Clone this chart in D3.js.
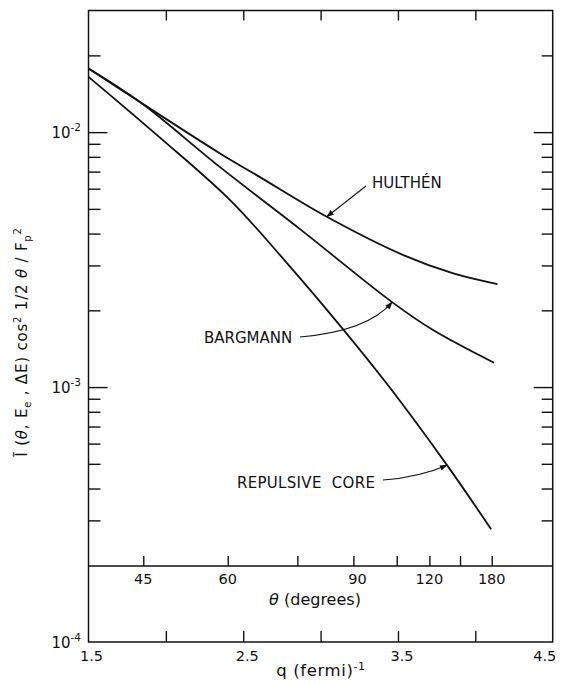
<!DOCTYPE html>
<html>
<head>
<meta charset="utf-8">
<script src="https://cdn.jsdelivr.net/npm/d3@7"></script>
<style>
  html, body { margin: 0; padding: 0; background: #fff; }
  svg text { font-family: "DejaVu Sans", "Liberation Sans", sans-serif; fill: #111; }
  .ax path, .ax line { stroke: #111; stroke-width: 1.4; }
</style>
</head>
<body>
<svg id="chart" width="565" height="685"></svg>
<script>
// Momentum transfer q (fermi^-1) and the cross-section ratio for three deuteron wave functions
const qHulthen   = [1.5, 1.833, 2.350, 2.608, 3.040, 3.535, 3.858, 4.143];
const vHulthen   = [0.01778, 0.01312, 0.00825, 0.00666, 0.004656, 0.003293, 0.002792, 0.002535];
const qBargmann  = [1.5, 1.833, 2.350, 2.867, 3.462, 3.727, 4.121];
const vBargmann  = [0.01778, 0.01312, 0.00729, 0.004165, 0.002154, 0.001673, 0.001245];
const qRepulsive = [1.5, 1.962, 2.415, 2.777, 3.139, 3.436, 3.817, 4.102];
const vRepulsive = [0.01648, 0.009515, 0.005412, 0.003093, 0.001704, 0.001016, 0.000494, 0.000277];

// Axis ticks
const qTicks      = [2, 2.5, 3, 3.5, 4];
const qTickLabels = [1.5, 2.5, 3.5, 4.5];
const yMajorTicks = [1e-2, 1e-3];
const yMinorTicks = [2e-2, 9e-3, 8e-3, 7e-3, 6e-3, 5e-3, 4e-3, 3e-3, 2e-3,
                     9e-4, 8e-4, 7e-4, 6e-4, 5e-4, 4e-4, 3e-4];
const yDecadeLabels = [-2, -3, -4];
// Scattering angle scale and the q each angle corresponds to
const thetaDeg    = [45, 60, 75, 90, 105, 120, 135, 180];
const thetaQ      = [1.854, 2.400, 2.850, 3.212, 3.492, 3.703, 3.901, 4.106];
const thetaLabels = [45, 60, 90, 120, 180];

const svg = d3.select("#chart");
const L = 88.5, R = 552.7, T = 10.5, B = 642, thetaLineY = 566;

const x = d3.scaleLinear().domain([1.5, 4.5]).range([L, R]);
const y = d3.scaleLog().domain([1e-4, 3e-2]).range([B, T]);

// frame
svg.append("rect").attr("x", L).attr("y", T).attr("width", R - L).attr("height", B - T)
  .attr("fill", "none").attr("stroke", "#111").attr("stroke-width", 1.5);

function strip(g) { g.select(".domain").remove(); }

// left / right ticks (pointing inward)
svg.append("g").attr("class", "ax").attr("transform", `translate(${L},0)`)
  .call(d3.axisLeft(y).tickValues(yMinorTicks).tickSize(-12).tickFormat("")).call(strip);
svg.append("g").attr("class", "ax").attr("transform", `translate(${L},0)`)
  .call(d3.axisLeft(y).tickValues(yMajorTicks).tickSize(-19).tickFormat("")).call(strip);
svg.append("g").attr("class", "ax").attr("transform", `translate(${R},0)`)
  .call(d3.axisRight(y).tickValues(yMinorTicks).tickSize(-11).tickFormat("")).call(strip);
svg.append("g").attr("class", "ax").attr("transform", `translate(${R},0)`)
  .call(d3.axisRight(y).tickValues(yMajorTicks).tickSize(-19).tickFormat("")).call(strip);

// top / bottom q ticks
svg.append("g").attr("class", "ax").attr("transform", `translate(0,${T})`)
  .call(d3.axisTop(x).tickValues(qTicks).tickSize(-10).tickFormat("")).call(strip);
svg.append("g").attr("class", "ax").attr("transform", `translate(0,${B})`)
  .call(d3.axisBottom(x).tickValues(qTicks).tickSize(-11).tickFormat("")).call(strip);

// theta scale line and ticks
svg.append("line").attr("x1", L).attr("x2", R).attr("y1", thetaLineY).attr("y2", thetaLineY)
  .attr("stroke", "#111").attr("stroke-width", 1.4);
svg.append("g").attr("class", "ax").attr("transform", `translate(0,${thetaLineY})`)
  .call(d3.axisTop(x).tickValues(thetaQ).tickSize(10).tickFormat("")).call(strip);

svg.append("g").selectAll("text").data(thetaLabels).join("text")
  .attr("x", d => x(thetaQ[thetaDeg.indexOf(d)]) + (d === 90 ? 4 : 0))
  .attr("y", 584).attr("text-anchor", "middle").attr("font-size", 14.5)
  .text(d => d);

const thLab = svg.append("text").attr("x", 315).attr("y", 605)
  .attr("text-anchor", "middle").attr("font-size", 16);
thLab.append("tspan").attr("font-style", "italic").text("θ");
thLab.append("tspan").text(" (degrees)");

// q labels
svg.append("g").selectAll("text").data(qTickLabels).join("text")
  .attr("x", d => x(d) + (d === 4.5 ? -8 : d === 1.5 ? 3 : 4))
  .attr("y", 661).attr("text-anchor", "middle").attr("font-size", 14.5)
  .text(d => d.toFixed(1));

const qLab = svg.append("text").attr("x", 321).attr("y", 676)
  .attr("text-anchor", "middle").attr("font-size", 16.5).attr("letter-spacing", 0.6);
qLab.append("tspan").text("q (fermi)");
qLab.append("tspan").attr("dy", -6).attr("font-size", 11).text("-1");

// decade labels
yDecadeLabels.forEach(e => {
  const t = svg.append("text").attr("x", 81).attr("y", y(Math.pow(10, e)) + 6)
    .attr("text-anchor", "end").attr("font-size", 15);
  t.append("tspan").text("10");
  t.append("tspan").attr("dy", -7).attr("font-size", 10.5).text(String(e));
});

// y title
const yt = svg.append("text").attr("transform", "translate(27,342) rotate(-90)")
  .attr("text-anchor", "middle").attr("font-size", 15).attr("letter-spacing", 0.8);
yt.append("tspan").text("Ī (");
yt.append("tspan").attr("font-style", "italic").text("θ");
yt.append("tspan").text(", E");
yt.append("tspan").attr("dy", 4).attr("font-size", 10).text("e");
yt.append("tspan").attr("dy", -4).text(" , ΔE) cos");
yt.append("tspan").attr("dy", -6).attr("font-size", 10).text("2");
yt.append("tspan").attr("dy", 6).text(" 1/2 ");
yt.append("tspan").attr("font-style", "italic").text("θ");
yt.append("tspan").text(" / F");
yt.append("tspan").attr("dy", 4).attr("font-size", 10).text("p");
yt.append("tspan").attr("dy", -10).attr("font-size", 10).text("2");

// curves
const line = d3.line().x(d => x(d[0])).y(d => y(d[1])).curve(d3.curveCatmullRom.alpha(0.5));
const series = [
  { q: qHulthen, v: vHulthen },
  { q: qBargmann, v: vBargmann },
  { q: qRepulsive, v: vRepulsive }
];
svg.append("g").selectAll("path").data(series).join("path")
  .attr("d", s => line(s.q.map((q, i) => [q, s.v[i]])))
  .attr("fill", "none").attr("stroke", "#111").attr("stroke-width", 1.8);

// arrowheads
svg.append("defs").append("marker").attr("id", "ah")
  .attr("viewBox", "0 0 10 10").attr("refX", 9).attr("refY", 5)
  .attr("markerWidth", 8).attr("markerHeight", 8).attr("markerUnits", "userSpaceOnUse")
  .attr("orient", "auto")
  .append("path").attr("d", "M0,1.5 L10,5 L0,8.5 Z").attr("fill", "#111");

// annotations: label, text position, arrow tail, control point, tip on the curve
const notes = [
  { text: "HULTHÉN", tx: 372, ty: 188, tail: [366, 186], ctrl: null, tip: [qHulthen[4], vHulthen[4]] },
  { text: "BARGMANN", tx: 204, ty: 343, tail: [300, 337], ctrl: [368, 331], tip: [qBargmann[4], vBargmann[4]] },
  { text: "REPULSIVE  CORE", tx: 237, ty: 488, tail: [383, 480], ctrl: [420, 477], tip: [qRepulsive[6], vRepulsive[6]] }
];
notes.forEach(n => {
  svg.append("text").attr("x", n.tx).attr("y", n.ty).attr("font-size", 15)
    .attr("letter-spacing", n.text.length > 10 ? 0.3 : 0)
    .style("white-space", "pre").text(n.text);
  const tp = [x(n.tip[0]), y(n.tip[1])];
  const p = d3.path();
  p.moveTo(n.tail[0], n.tail[1]);
  if (n.ctrl) p.quadraticCurveTo(n.ctrl[0], n.ctrl[1], tp[0], tp[1]);
  else p.lineTo(tp[0], tp[1]);
  svg.append("path").attr("d", p.toString()).attr("fill", "none")
    .attr("stroke", "#111").attr("stroke-width", 1.1).attr("marker-end", "url(#ah)");
});
</script>
</body>
</html>
